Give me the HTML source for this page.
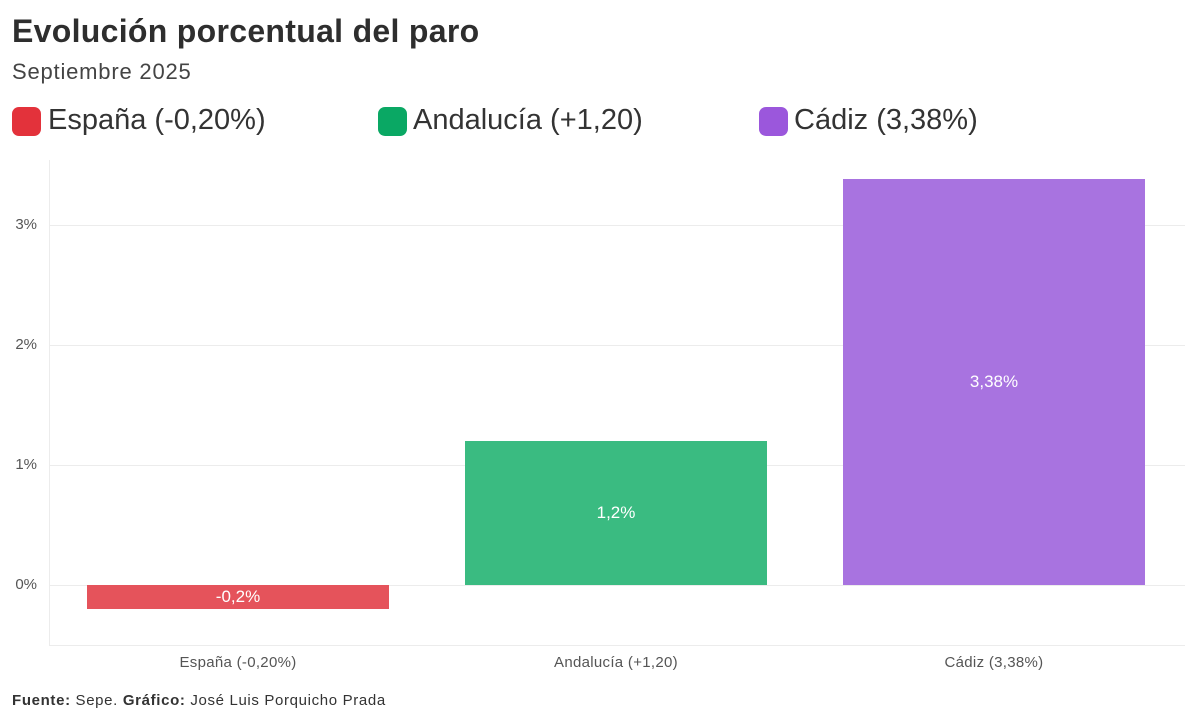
<!DOCTYPE html>
<html><head><meta charset="utf-8"><style>
body{margin:0;width:1200px;height:724px;background:#fff;font-family:"Liberation Sans",sans-serif;color:#333;position:relative;overflow:hidden}
.a{position:absolute;white-space:nowrap}
.t{left:12px;top:13px;font-size:32px;font-weight:bold;color:#2e2e2e;letter-spacing:0.3px}
.s{left:12px;top:59px;font-size:22px;color:#444;letter-spacing:0.8px}
.lg{top:104px;font-size:29px;color:#333}
.sq{position:absolute;top:107px;width:29px;height:29px;border-radius:7px}
.yl{font-size:15px;color:#555;right:1163px;text-align:right}
.gl{position:absolute;left:50px;width:1135px;height:1px;background:#ececec}
.bar{position:absolute;display:flex;align-items:center;justify-content:center;color:#fff;font-size:17px}
.cl{font-size:15px;color:#555;top:654px;width:302px;text-align:center;letter-spacing:0.3px}
</style></head><body>
<div class="a t">Evolución porcentual del paro</div>
<div class="a s">Septiembre 2025</div>
<div class="sq" style="left:12px;background:#e3323b"></div><div class="a lg" style="left:48px">España (-0,20%)</div>
<div class="sq" style="left:378px;background:#0aa864"></div><div class="a lg" style="left:413px">Andalucía (+1,20)</div>
<div class="sq" style="left:759px;background:#9b57dc"></div><div class="a lg" style="left:794px">Cádiz (3,38%)</div>
<div class="gl" style="top:225px"></div>
<div class="gl" style="top:345px"></div>
<div class="gl" style="top:465px"></div>
<div class="gl" style="top:585px"></div>
<div class="gl" style="top:645px"></div>
<div style="position:absolute;left:49px;top:160px;width:1px;height:486px;background:#ececec"></div>
<div class="a yl" style="top:216px">3%</div>
<div class="a yl" style="top:336px">2%</div>
<div class="a yl" style="top:456px">1%</div>
<div class="a yl" style="top:576px">0%</div>
<div class="bar" style="left:87px;top:585px;width:302px;height:24px;background:#e5535b">-0,2%</div>
<div class="bar" style="left:465px;top:441px;width:302px;height:144px;background:#3abb81">1,2%</div>
<div class="bar" style="left:843px;top:179px;width:302px;height:406px;background:#a873e0">3,38%</div>
<div class="a cl" style="left:87px">España (-0,20%)</div>
<div class="a cl" style="left:465px">Andalucía (+1,20)</div>
<div class="a cl" style="left:843px">Cádiz (3,38%)</div>
<div class="a" style="left:12px;top:692px;font-size:15px;color:#333;letter-spacing:0.65px"><b>Fuente:</b> Sepe. <b>Gráfico:</b> José Luis Porquicho Prada</div>
</body></html>
